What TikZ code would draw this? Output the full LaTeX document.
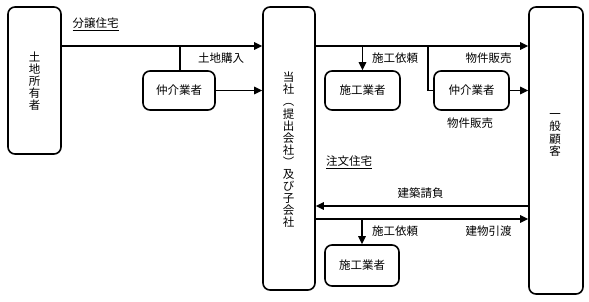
\documentclass[tikz,border=0pt]{standalone}
\usepackage{fontspec}
\setmainfont{Noto Sans CJK JP}
\usetikzlibrary{arrows.meta}
\tikzset{
  box/.style={draw, line width=1.6pt, rounded corners=7pt, inner sep=0pt},
  vlabel/.style={align=center, inner sep=0pt, font=\fontsize{11.5}{12.1}\selectfont},
  lbl/.style={inner sep=0pt, font=\fontsize{11.5}{13}\selectfont},
  conn/.style={line width=1.6pt},
  arr/.style={line width=1.6pt, -{Triangle[length=8pt,width=7.5pt]}},
}
\begin{document}
\begin{tikzpicture}[x=1pt,y=-1pt]
\useasboundingbox (0,0) rectangle (589,301);
% large boxes
\node[box, minimum width=53pt, minimum height=147pt] (owner) at (34.5,80.5) {};
\node[vlabel] (ownertxt) at (34.5,81) {土\\地\\所\\有\\者};
\node[box, minimum width=52pt, minimum height=283pt] (company) at (289,148.5) {};
\node[vlabel] (companytxt) at (288.5,150) {当\\社\\︵\\提\\出\\会\\社\\︶\\及\\び\\子\\会\\社};
\node[box, minimum width=54pt, minimum height=287pt] (customer) at (556,150.5) {};
\node[vlabel] (customertxt) at (555,135) {一\\般\\顧\\客};
% small boxes
\node[box, lbl, minimum width=72pt, minimum height=39pt] (broker1) at (179,90.5) {仲介業者};
\node[box, lbl, minimum width=75pt, minimum height=39pt] (contractor1) at (362.5,90.5) {施工業者};
\node[box, lbl, minimum width=75pt, minimum height=39pt] (broker2) at (471.5,90.5) {仲介業者};
\node[box, lbl, minimum width=74pt, minimum height=41pt] (contractor2) at (362,265.5) {施工業者};
% helper coordinates
\coordinate (yA) at (0,46);
\coordinate (yB) at (0,206);
\coordinate (yC) at (0,219);
\coordinate (j1) at (180,46);
\coordinate (j2) at (428,46);
% connectors, top left
\draw[arr] (owner.east |- yA) -- (company.west |- yA);
\draw[conn] (j1) -- (j1 |- broker1.north);
\draw[arr] (broker1.east) -- (company.west |- broker1.east);
% top right
\draw[arr] (company.east |- yA) -- (customer.west |- yA);
\draw[arr] (contractor1.north |- yA) -- (contractor1.north);
\draw[conn] (j2) |- (broker2.west);
\draw[arr] (broker2.east) -- (customer.west |- broker2.east);
% bottom
\draw[arr] (customer.west |- yB) -- (company.east |- yB);
\draw[arr] (company.east |- yC) -- (customer.west |- yC);
\draw[arr] (contractor2.north |- yC) -- (contractor2.north);
% labels
\node[lbl] (l1) at (95.5,24) {\underline{分譲住宅}};
\node[lbl] (l2) at (221,58) {土地購入};
\node[lbl] (l3) at (395,58) {施工依頼};
\node[lbl] (l4) at (488.5,58) {物件販売};
\node[lbl] (l5) at (470,123) {物件販売};
\node[lbl] (l6) at (349,162) {\underline{注文住宅}};
\node[lbl] (l7) at (420.5,193) {建築請負};
\node[lbl] (l8) at (395,231) {施工依頼};
\node[lbl] (l9) at (488.5,231) {建物引渡};
\end{tikzpicture}
\end{document}
